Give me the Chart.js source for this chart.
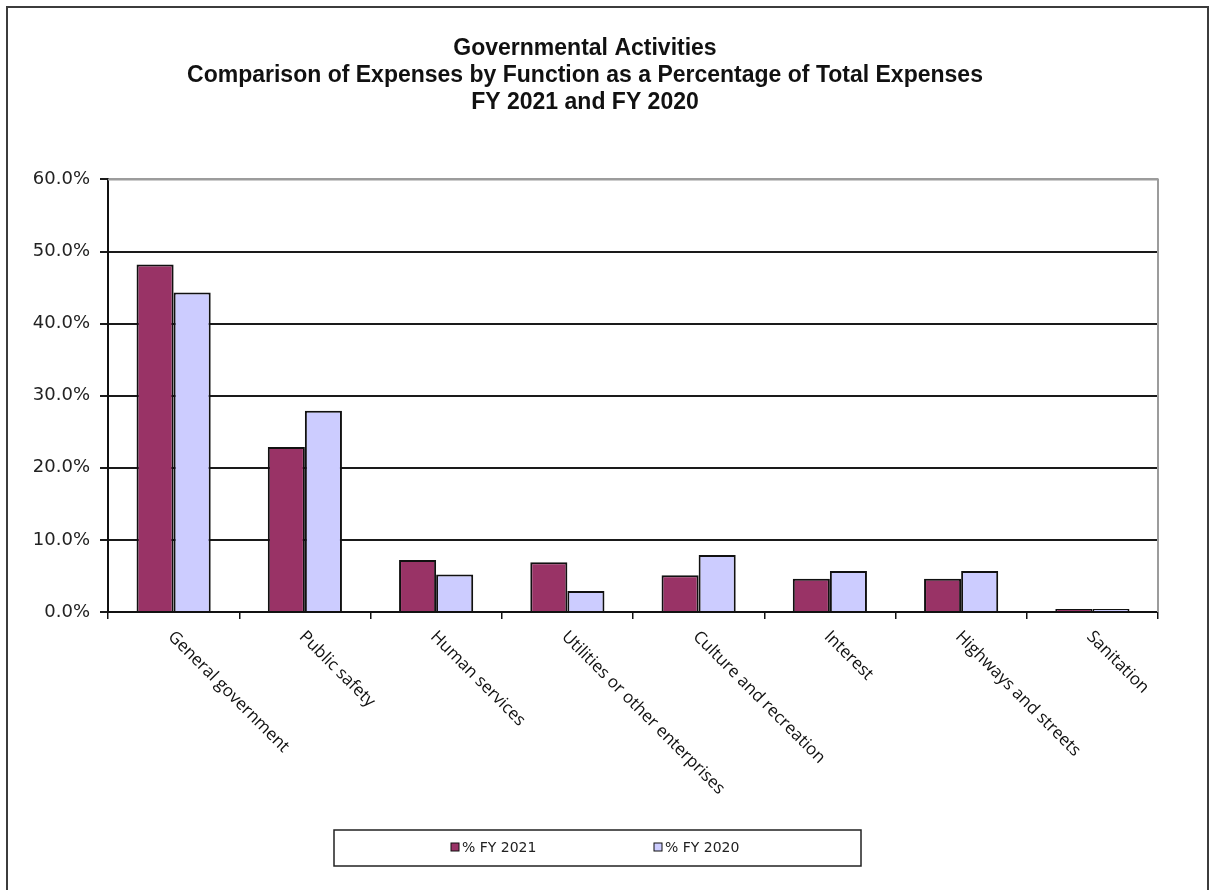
<!DOCTYPE html>
<html>
<head>
<meta charset="utf-8">
<script src="https://cdn.jsdelivr.net/npm/chart.js@4.4.1/dist/chart.umd.min.js"></script>
<style>
  html, body { margin: 0; padding: 0; background: #fff; }
  #wrap { position: relative; width: 1211px; height: 890px; overflow: hidden; }
  #frame { position: absolute; left: 6px; top: 6px; width: 1203px; height: 900px; border: 2px solid #3c3c3c; box-sizing: border-box; }
  #chart { position: absolute; left: 0; top: 0; }
</style>
</head>
<body>
<div id="wrap">
  <div id="frame"></div>
  <canvas id="chart" width="1211" height="890"></canvas>
</div>
<script>
// Veriler
const categories = [
  "General government",
  "Public safety",
  "Human services",
  "Utilities or other enterprises",
  "Culture and recreation",
  "Interest",
  "Highways and streets",
  "Sanitation"
];
const fy2021 = [48.2, 22.9, 7.2, 6.9, 5.1, 4.6, 4.6, 0.4];
const fy2020 = [44.3, 27.9, 5.2, 2.9, 7.9, 5.7, 5.7, 0.4];
const yMin = 0;
const yMax = 60;
const yStep = 10;
const titleLines = [
  "Governmental Activities",
  "Comparison of Expenses by Function as a Percentage of Total Expenses",
  "FY 2021 and FY 2020"
];

// Eksen etiketleri, çerçeve ve lejant
const extrasPlugin = {
  id: "extras",
  afterDraw(chart) {
    const ctx = chart.ctx;
    const area = chart.chartArea;
    const xScale = chart.scales.x;
    ctx.save();

    // plot alanının üst ve sağ kenarı (gri)
    ctx.strokeStyle = "#9c9c9c";
    ctx.lineWidth = 2;
    ctx.beginPath();
    ctx.moveTo(area.left, area.top);
    ctx.lineTo(area.right, area.top);
    ctx.lineTo(area.right, area.bottom);
    ctx.stroke();

    // 45 derece eğik kategori etiketleri
    ctx.font = "17px 'Open Sans'";
    ctx.fillStyle = "#111";
    ctx.textAlign = "left";
    ctx.textBaseline = "middle";
    categories.forEach((label, i) => {
      const px = xScale.getPixelForValue(i);
      ctx.save();
      ctx.translate(px - 3, area.bottom + 22);
      ctx.rotate(Math.PI / 4);
      ctx.fillText(label, 0, 0);
      ctx.restore();
    });

    // Lejant kutusu
    ctx.fillStyle = "#fff";
    ctx.strokeStyle = "#222";
    ctx.lineWidth = 1.5;
    ctx.fillRect(334, 830, 527, 36);
    ctx.strokeRect(334, 830, 527, 36);

    const itemX = [451, 654];
    ctx.font = "14px 'DejaVu Sans'";
    ctx.textBaseline = "middle";
    chart.data.datasets.forEach((ds, i) => {
      ctx.fillStyle = ds.backgroundColor;
      ctx.fillRect(itemX[i], 843, 8, 8);
      ctx.strokeStyle = "#111";
      ctx.lineWidth = 1;
      ctx.strokeRect(itemX[i], 843, 8, 8);
      ctx.fillStyle = "#222";
      ctx.fillText(ds.label, itemX[i] + 11, 848);
    });

    ctx.restore();
  }
};

const ctx = document.getElementById("chart").getContext("2d");

new Chart(ctx, {
  type: "bar",
  data: {
    labels: categories,
    datasets: [
      {
        label: "% FY 2021",
        data: fy2021,
        backgroundColor: "#993366",
        borderColor: "#111",
        borderWidth: 2,
        categoryPercentage: 0.565,
        barPercentage: 1.0
      },
      {
        label: "% FY 2020",
        data: fy2020,
        backgroundColor: "#CCCCFF",
        borderColor: "#111",
        borderWidth: 2,
        categoryPercentage: 0.565,
        barPercentage: 1.0
      }
    ]
  },
  options: {
    responsive: false,
    animation: false,
    devicePixelRatio: 1,
    layout: {
      padding: { top: 35, left: 12, right: 53, bottom: 0 }
    },
    plugins: {
      legend: { display: false },
      tooltip: { enabled: false },
      title: {
        display: true,
        text: titleLines,
        color: "#111",
        font: { family: "'Liberation Sans', Arial, sans-serif", size: 23, weight: "bold", lineHeight: 1.18 },
        padding: { top: 0, bottom: 63 }
      }
    },
    scales: {
      x: {
        grid: {
          display: true,
          offset: true,
          drawOnChartArea: false,
          drawTicks: true,
          tickLength: 7,
          color: "#111",
          lineWidth: 1.5
        },
        border: { display: true, color: "#111", width: 2 },
        ticks: { display: false },
        afterFit: (scale) => { scale.height = 278; }
      },
      y: {
        min: yMin,
        max: yMax,
        grid: {
          color: (c) => (c.tick && c.tick.value === yMax ? "#9c9c9c" : "#1a1a1a"),
          lineWidth: 2,
          tickLength: 8,
          tickColor: "#1a1a1a"
        },
        border: { display: true, color: "#111", width: 2 },
        ticks: {
          stepSize: yStep,
          padding: 10,
          color: "#222",
          font: { family: "'DejaVu Sans'", size: 18 },
          callback: (v) => v.toFixed(1) + "%"
        },
        afterFit: (scale) => { scale.width = 96; }
      }
    }
  },
  plugins: [extrasPlugin]
});
</script>
</body>
</html>
